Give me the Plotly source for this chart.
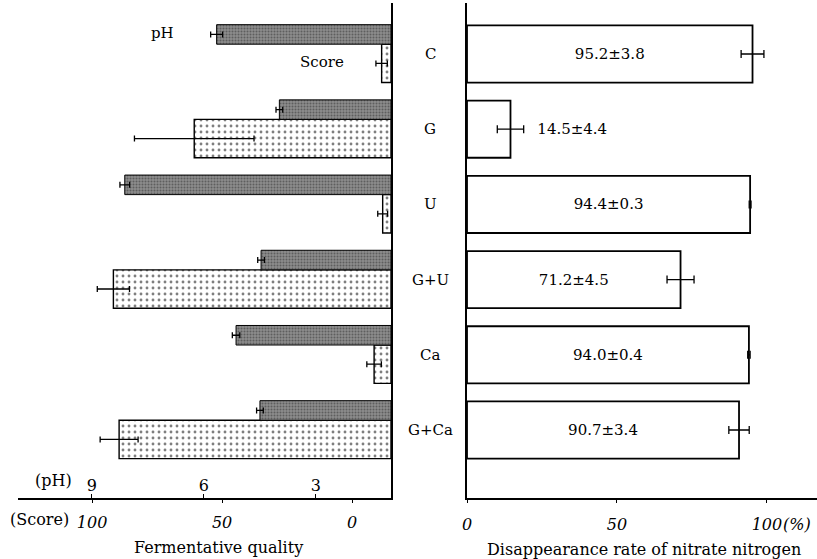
import plotly.graph_objects as go

# ---------------- data ----------------
categories = ["C", "G", "U", "G+U", "Ca", "G+Ca"]

ph_values = [5.66, 3.98, 8.12, 4.47, 5.14, 4.50]
ph_errors = [0.16, 0.09, 0.13, 0.09, 0.10, 0.09]

score_values = [-11.4, 60.7, -11.8, 91.8, -8.5, 89.6]
score_errors = [2.2, 23.0, 1.9, 6.2, 2.8, 7.3]

nitrate_values = [95.2, 14.5, 94.4, 71.2, 94.0, 90.7]
nitrate_errors = [3.8, 4.4, 0.3, 4.5, 0.4, 3.4]

ph_tickvals = [9, 6, 3]
score_tickvals = [100, 50, 0]
rate_tickvals = [0, 50, 100]

# bar origin on the left panel (the vertical axis line)
PH_BASE = 0.99
SCORE_BASE = -15.0

# ---------------- styling ----------------
W, H = 817, 559
SERIF = "DejaVu Serif"
FS = 15
BLACK = "black"

nitrate_text = [f"{v:.1f}\u00b1{e:.1f}" for v, e in zip(nitrate_values, nitrate_errors)]
text_pos = ["inside" if v > 40 else "outside" for v in nitrate_values]
nitrate_text = [t if p == "inside" else "\u00a0" * 5 + t for t, p in zip(nitrate_text, text_pos)]

fig = go.Figure()

# pH bars (dark, top part of each group)
fig.add_trace(go.Bar(
    y=categories,
    x=[v - PH_BASE for v in ph_values],
    base=PH_BASE,
    orientation="h",
    xaxis="x3", yaxis="y",
    width=0.26, offset=-0.39,
    marker=dict(
        color="#7b7b7b",
        line=dict(color=BLACK, width=1),
        pattern=dict(shape=".", fgcolor="#303030", bgcolor="#8c8c8c", size=3, solidity=0.35),
    ),
    error_x=dict(type="data", array=ph_errors, color=BLACK, thickness=1.3, width=3),
    showlegend=False,
    hoverinfo="skip",
))

# Score bars (stippled, bottom part of each group)
fig.add_trace(go.Bar(
    y=categories,
    x=[v - SCORE_BASE for v in score_values],
    base=SCORE_BASE,
    orientation="h",
    xaxis="x", yaxis="y",
    width=0.51, offset=-0.13,
    marker=dict(
        color="white",
        line=dict(color=BLACK, width=1.4),
        pattern=dict(shape=".", fgcolor="black", bgcolor="white", size=6, solidity=0.18),
    ),
    error_x=dict(type="data", array=score_errors, color=BLACK, thickness=1.3, width=3),
    showlegend=False,
    hoverinfo="skip",
))

# Disappearance rate of nitrate nitrogen
fig.add_trace(go.Bar(
    y=categories,
    x=nitrate_values,
    orientation="h",
    xaxis="x2", yaxis="y2",
    width=0.76, offset=-0.38,
    marker=dict(color="white", line=dict(color=BLACK, width=1.8)),
    text=nitrate_text,
    textposition=text_pos,
    insidetextanchor="middle",
    textfont=dict(family=SERIF, size=15, color=BLACK),
    insidetextfont=dict(family=SERIF, size=15, color=BLACK),
    outsidetextfont=dict(family=SERIF, size=15, color=BLACK),
    constraintext="none",
    cliponaxis=False,
    error_x=dict(type="data", array=nitrate_errors, color=BLACK, thickness=1.3, width=4),
    showlegend=False,
    hoverinfo="skip",
))

yrange = [5.904, -0.678]
axis_common = dict(showgrid=False, zeroline=False, linecolor=BLACK, tickcolor=BLACK)

fig.update_layout(
    width=W, height=H,
    margin=dict(l=0, r=0, t=3, b=61, autoexpand=False),
    paper_bgcolor="white", plot_bgcolor="white",
    barmode="overlay",
    font=dict(family=SERIF, size=FS, color=BLACK),
    xaxis=dict(
        domain=[18 / W, 391 / W], range=[128.5, -15], anchor="y",
        tickvals=score_tickvals, ticks="outside", ticklen=3,
        showline=True, linewidth=1.5,
        tickfont=dict(family=SERIF, size=16, style="italic", color=BLACK),
        ticklabelstandoff=6,
        **axis_common,
    ),
    xaxis3=dict(
        overlaying="x", side="bottom", anchor="y",
        range=[10.98, 0.99],
        tickvals=ph_tickvals, ticks="inside", ticklen=4,
        ticklabelposition="inside",
        showline=False,
        tickfont=dict(family=SERIF, size=16, color=BLACK),
        **axis_common,
    ),
    yaxis=dict(
        domain=[0, 1], type="category", categoryarray=categories,
        range=yrange, anchor="x", side="right",
        showline=True, linewidth=1.5, showticklabels=False, ticks="",
        **axis_common,
    ),
    xaxis2=dict(
        domain=[467 / W, 1], range=[0, 116.7], anchor="y2",
        tickvals=rate_tickvals, ticks="outside", ticklen=3,
        showline=True, linewidth=1.5,
        tickfont=dict(family=SERIF, size=16, style="italic", color=BLACK),
        ticklabelstandoff=8,
        **axis_common,
    ),
    yaxis2=dict(
        domain=[0, 1], type="category", categoryarray=categories,
        range=yrange, anchor="x2", side="left",
        showline=True, linewidth=1.5, showticklabels=False, ticks="",
        **axis_common,
    ),
)


def paper_y(py):
    # convert a pixel row of the page into layout paper units
    top, bottom = 3, H - 61
    return (bottom - py) / (bottom - top)


annotations = []
# category labels centred between the panels
for c in categories:
    annotations.append(dict(
        text=c, xref="paper", yref="y2", x=430 / W, y=c,
        xanchor="center", yanchor="middle", showarrow=False,
        font=dict(family=SERIF, size=15, color=BLACK),
    ))

common = dict(showarrow=False, xanchor="center", yanchor="middle")
annotations += [
    dict(text="pH", xref="x3", yref="y", x=7.1, y=categories[0], yshift=21,
         font=dict(family=SERIF, size=15, color=BLACK), **common),
    dict(text="Score", xref="x", yref="y", x=11.5, y=categories[0], yshift=-8,
         font=dict(family=SERIF, size=15, color=BLACK), **common),
    dict(text="(pH)", xref="paper", yref="paper", x=53 / W, y=paper_y(480),
         font=dict(family=SERIF, size=16, color=BLACK), **common),
    dict(text="(Score)", xref="paper", yref="paper", x=39 / W, y=paper_y(519),
         font=dict(family=SERIF, size=16, color=BLACK), **common),
    dict(text="(%)", xref="x2", yref="paper", x=110, y=paper_y(524),
         font=dict(family=SERIF, size=16, style="italic", color=BLACK), **common),
    dict(text="Fermentative quality", xref="paper", yref="paper", x=218 / W, y=paper_y(547),
         font=dict(family=SERIF, size=16, color=BLACK), **common),
    dict(text="Disappearance rate of nitrate nitrogen", xref="paper", yref="paper",
         x=644 / W, y=paper_y(549), font=dict(family=SERIF, size=16, color=BLACK), **common),
]
fig.update_layout(annotations=annotations)

fig.write_html(
    "out.html",
    config={"displayModeBar": False},
    post_script="document.body.style.margin='0';",
)
